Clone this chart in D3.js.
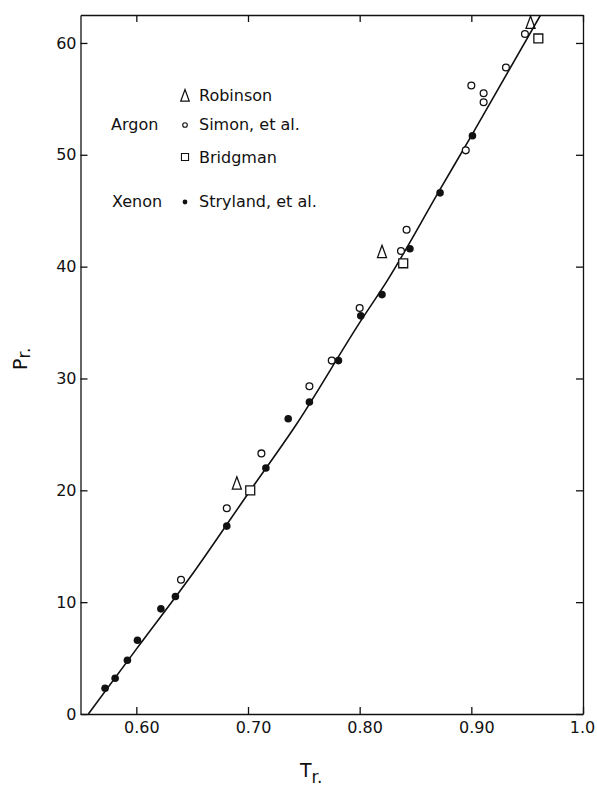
<!DOCTYPE html>
<html lang="en">
<head>
    <meta charset="UTF-8">
    <title>Pr vs Tr</title>
    <script src="https://cdn.jsdelivr.net/npm/d3@7/dist/d3.min.js"></script>
    <style>
        body { margin: 0; background: #fff; }
        text { font-family: "DejaVu Sans", sans-serif; fill: #111; }
        .axis path, .axis line { stroke: #111; stroke-width: 1.3; }
        .axis text { font-size: 16px; }
    </style>
</head>
<body>
    <script>
        // values
        var xTicks = [0.60, 0.70, 0.80, 0.90, 1.0];
        var xTickLabels = ['0.60', '0.70', '0.80', '0.90', '1.0'];
        var yTicks = [0, 10, 20, 30, 40, 50, 60];

        // Argon - Robinson (triangles)
        var robinsonTr = [0.690, 0.820, 0.953];
        var robinsonPr = [20.6, 41.3, 61.8];

        // Argon - Simon, et al. (open circles)
        var simonTr = [0.640, 0.681, 0.712, 0.755, 0.775, 0.800, 0.837, 0.842, 0.895, 0.900, 0.911, 0.911, 0.931, 0.948];
        var simonPr = [12.0, 18.4, 23.3, 29.3, 31.6, 36.3, 41.4, 43.3, 50.4, 56.2, 55.5, 54.7, 57.8, 60.8];

        // Argon - Bridgman (squares)
        var bridgmanTr = [0.702, 0.839, 0.960];
        var bridgmanPr = [20.0, 40.3, 60.4];

        // Xenon - Stryland, et al. (filled circles)
        var strylandTr = [0.572, 0.581, 0.592, 0.601, 0.622, 0.635, 0.681, 0.716, 0.736, 0.755, 0.781, 0.801, 0.820, 0.845, 0.872, 0.901];
        var strylandPr = [2.3, 3.2, 4.8, 6.6, 9.4, 10.5, 16.8, 22.0, 26.4, 27.9, 31.6, 35.6, 37.5, 41.6, 46.6, 51.7];

        // the drawn curve
        var curveTr = [0.557, 0.600, 0.653, 0.700, 0.744, 0.800, 0.825, 0.872, 0.900, 0.962];
        var curvePr = [0, 5.8, 12.9, 19.7, 26.0, 35.0, 38.8, 46.9, 51.7, 62.5];

        function pairs(xs, ys) {
            return xs.map(function(x, i) { return [x, ys[i]]; });
        }

        // taller than wide triangle, like the hand lettered delta
        var tallTriangle = {
            draw: function(context, size) {
                var s = Math.sqrt(size);
                context.moveTo(0, -s * 0.68);
                context.lineTo(s * 0.45, s * 0.55);
                context.lineTo(-s * 0.45, s * 0.55);
                context.closePath();
            }
        };

        //width, height and plot box
        var w = 597;
        var h = 787;
        var boxLeft = 80.5, boxRight = 583, boxTop = 15, boxBottom = 714;

        var xScale = d3.scaleLinear().domain([0.55, 1.0]).range([boxLeft, boxRight]);
        var yScale = d3.scaleLinear().domain([0, 62.5]).range([boxBottom, boxTop]);

        var svg = d3.select('body')
                    .append('svg')
                    .attr('width', w)
                    .attr('height', h);

        svg.append('clipPath')
            .attr('id', 'plot-area')
            .append('rect')
            .attr('x', boxLeft)
            .attr('y', boxTop)
            .attr('width', boxRight - boxLeft)
            .attr('height', boxBottom - boxTop);

        // axes, all ticks pointing inward
        svg.append('g')
            .attr('class', 'axis')
            .attr('transform', 'translate(0,' + boxBottom + ')')
            .call(d3.axisBottom(xScale)
                .tickValues(xTicks)
                .tickFormat(function(d, i) { return xTickLabels[i]; })
                .tickSizeInner(-7)
                .tickSizeOuter(0)
                .tickPadding(8))
            .selectAll('text')
            .attr('dx', function(d, i) { return i === xTicks.length - 1 ? -1 : 5; });

        svg.append('g')
            .attr('class', 'axis')
            .attr('transform', 'translate(' + boxLeft + ',0)')
            .call(d3.axisLeft(yScale)
                .tickValues(yTicks)
                .tickSizeInner(-7)
                .tickSizeOuter(0)
                .tickPadding(4));

        svg.append('g')
            .attr('class', 'axis')
            .attr('transform', 'translate(0,' + boxTop + ')')
            .call(d3.axisTop(xScale)
                .tickValues(xTicks)
                .tickSizeInner(-7)
                .tickSizeOuter(0)
                .tickFormat(''));

        svg.append('g')
            .attr('class', 'axis')
            .attr('transform', 'translate(' + boxRight + ',0)')
            .call(d3.axisRight(yScale)
                .tickValues(yTicks)
                .tickSizeInner(-7)
                .tickSizeOuter(0)
                .tickFormat(''));

        // curve
        var line = d3.line()
            .x(function(d) { return xScale(d[0]); })
            .y(function(d) { return yScale(d[1]); })
            .curve(d3.curveMonotoneX);

        svg.append('path')
            .datum(pairs(curveTr, curvePr))
            .attr('clip-path', 'url(#plot-area)')
            .attr('d', line)
            .attr('fill', 'none')
            .attr('stroke', '#111')
            .attr('stroke-width', 1.6);

        // points
        var pts = svg.append('g');

        pts.selectAll('.simon')
            .data(pairs(simonTr, simonPr))
            .enter()
            .append('circle')
            .attr('cx', function(d) { return xScale(d[0]); })
            .attr('cy', function(d) { return yScale(d[1]); })
            .attr('r', 3.4)
            .attr('fill', '#fff')
            .attr('stroke', '#111')
            .attr('stroke-width', 1.3);

        pts.selectAll('.stryland')
            .data(pairs(strylandTr, strylandPr))
            .enter()
            .append('circle')
            .attr('cx', function(d) { return xScale(d[0]); })
            .attr('cy', function(d) { return yScale(d[1]); })
            .attr('r', 3.8)
            .attr('fill', '#111');

        pts.selectAll('.bridgman')
            .data(pairs(bridgmanTr, bridgmanPr))
            .enter()
            .append('path')
            .attr('transform', function(d) { return 'translate(' + xScale(d[0]) + ',' + yScale(d[1]) + ')'; })
            .attr('d', d3.symbol().type(d3.symbolSquare).size(80))
            .attr('fill', '#fff')
            .attr('stroke', '#111')
            .attr('stroke-width', 1.3);

        pts.selectAll('.robinson')
            .data(pairs(robinsonTr, robinsonPr))
            .enter()
            .append('path')
            .attr('transform', function(d) { return 'translate(' + xScale(d[0]) + ',' + yScale(d[1]) + ')'; })
            .attr('d', d3.symbol().type(tallTriangle).size(100))
            .attr('fill', 'none')
            .attr('stroke', '#111')
            .attr('stroke-width', 1.3);

        // legend
        var lg = svg.append('g').style('font-size', '16px');
        lg.append('path')
            .attr('transform', 'translate(185,96)')
            .attr('d', d3.symbol().type(tallTriangle).size(90))
            .attr('fill', 'none').attr('stroke', '#111').attr('stroke-width', 1.2);
        lg.append('circle')
            .attr('cx', 185).attr('cy', 125).attr('r', 2.3)
            .attr('fill', 'none').attr('stroke', '#111').attr('stroke-width', 1.1);
        lg.append('path')
            .attr('transform', 'translate(185,157)')
            .attr('d', d3.symbol().type(d3.symbolSquare).size(50))
            .attr('fill', 'none').attr('stroke', '#111').attr('stroke-width', 1.1);
        lg.append('circle')
            .attr('cx', 185).attr('cy', 202).attr('r', 2.4)
            .attr('fill', '#111');

        lg.append('text').attr('x', 199).attr('y', 101).text('Robinson');
        lg.append('text').attr('x', 199).attr('y', 130).text('Simon, et al.');
        lg.append('text').attr('x', 199).attr('y', 163).text('Bridgman');
        lg.append('text').attr('x', 199).attr('y', 207).text('Stryland, et al.');
        lg.append('text').attr('x', 111).attr('y', 130).text('Argon');
        lg.append('text').attr('x', 112).attr('y', 207).text('Xenon');

        // axis titles
        var xt = svg.append('text')
            .attr('x', 300)
            .attr('y', 777)
            .style('font-size', '19px');
        xt.append('tspan').text('T');
        xt.append('tspan').attr('dy', 6).style('font-size', '17px').text('r.');

        var yt = svg.append('text')
            .attr('transform', 'translate(27,370) rotate(-90)')
            .style('font-size', '19px');
        yt.append('tspan').text('P');
        yt.append('tspan').attr('dy', 3).style('font-size', '17px').text('r.');
    </script>
</body>
</html>
